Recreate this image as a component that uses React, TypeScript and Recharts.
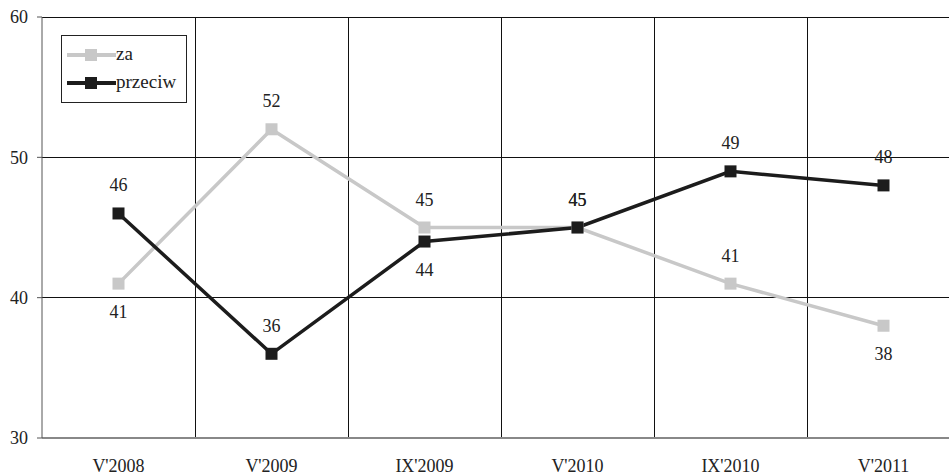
import { LineChart, Line, XAxis, YAxis, CartesianGrid, LabelList } from "recharts";

const categories = ["V'2008", "V'2009", "IX'2009", "V'2010", "IX'2010", "V'2011"];
const zaValues = [41, 52, 45, 45, 41, 38];
const przeciwValues = [46, 36, 44, 45, 49, 48];
const yTicks = [30, 40, 50, 60];

const data = categories.map((name, i) => ({
  name,
  za: zaValues[i],
  przeciw: przeciwValues[i],
}));

// which points get their value label under the marker
const labelsBelow: Record<string, number[]> = {
  za: [0, 5],
  przeciw: [2],
};

const FONT = "Liberation Serif, DejaVu Serif, serif";
const SERIES = [
  { key: "za", color: "#c8c8c8" },
  { key: "przeciw", color: "#1c1c1c" },
];

const SquareDot = (color: string) => (props: any) => {
  const { cx, cy, index } = props;
  if (cx == null || cy == null) return null;
  return <rect key={index} x={cx - 6} y={cy - 6} width={12} height={12} fill={color} />;
};

const valueLabel = (key: string) => (props: any) => {
  const { x, y, value, index } = props;
  const below = labelsBelow[key].includes(index);
  return (
    <text
      key={index}
      x={x}
      y={below ? y + 28 : y - 28}
      textAnchor="middle"
      dominantBaseline="central"
      style={{ fontFamily: FONT, fontSize: 18 }}
      fill="#222"
    >
      {value}
    </text>
  );
};

const LegendBox = () => (
  <div
    style={{
      position: "absolute",
      left: 61,
      top: 35,
      border: "1px solid #222",
      background: "#fff",
      width: 126,
      height: 68,
      boxSizing: "border-box",
      padding: "5px 0 0 5px",
      fontFamily: FONT,
      fontSize: 19,
      color: "#222",
      lineHeight: 1,
    }}
  >
    {SERIES.map((s) => (
      <div key={s.key} style={{ display: "flex", alignItems: "center", height: 28 }}>
        <svg width={49} height={14}>
          <line x1={0} y1={7} x2={49} y2={7} stroke={s.color} strokeWidth={4} />
          <rect x={18} y={1} width={12} height={12} fill={s.color} />
        </svg>
        <span style={{ marginTop: -3 }}>{s.key}</span>
      </div>
    ))}
  </div>
);

const tickStyle = { fontFamily: FONT, fontSize: 18, fill: "#222" };

export default function App() {
  return (
    <div
      style={{
        position: "absolute",
        left: 0,
        top: 0,
        width: 949,
        height: 475,
        overflow: "hidden",
        background: "#fff",
        fontFamily: FONT,
      }}
    >
      <LineChart
        width={970}
        height={475}
        data={data}
        margin={{ top: 17, right: 10, bottom: 7, left: 0 }}
        style={{ fontFamily: FONT }}
      >
        <CartesianGrid
          stroke="#111"
          shapeRendering="crispEdges"
          verticalCoordinatesGenerator={({ offset }: any) =>
            [1, 2, 3, 4, 5].map((i) => offset.left + (offset.width * i) / categories.length + 0.5)
          }
        />
        <XAxis
          dataKey="name"
          scale="band"
          height={30}
          stroke="#888"
          strokeWidth={2}
          tickLine={false}
          tickMargin={15}
          tick={tickStyle}
        />
        <YAxis
          domain={[30, 60]}
          ticks={yTicks}
          width={42}
          stroke="#555"
          tickSize={5}
          tickMargin={9}
          tick={tickStyle}
        />
        {SERIES.map((s) => (
          <Line
            key={s.key}
            dataKey={s.key}
            stroke={s.color}
            strokeWidth={3.5}
            dot={SquareDot(s.color)}
            activeDot={false}
            isAnimationActive={false}
          >
            <LabelList dataKey={s.key} content={valueLabel(s.key)} />
          </Line>
        ))}
      </LineChart>
      <LegendBox />
    </div>
  );
}
